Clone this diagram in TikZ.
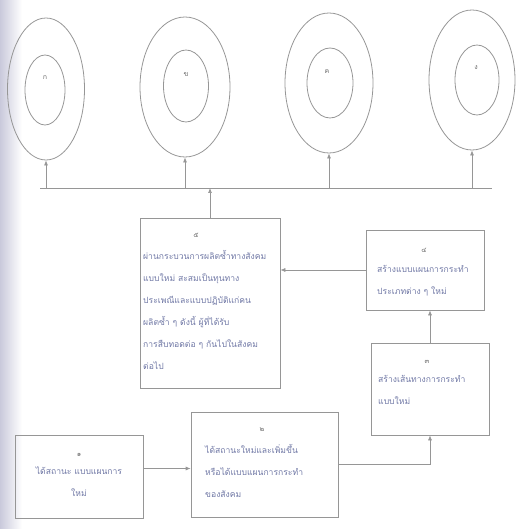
\documentclass[tikz,border=0pt]{standalone}
\usepackage{fontspec}
\newfontfamily\thaifont[Script=Thai]{Loma}
\usetikzlibrary{shapes.geometric,arrows.meta,positioning}
\definecolor{inkblue}{RGB}{112,120,165}
\definecolor{inkgray}{RGB}{110,110,110}
\definecolor{linegray}{RGB}{150,150,150}

\begin{document}
\begin{tikzpicture}[x=1pt,y=-1pt,
  ring_node/.style={ellipse,draw=linegray,line width=0.8pt,inner sep=0pt},
  box_node/.style={rectangle,draw=linegray,line width=0.7pt,inner sep=0pt},
  num_node/.style={font=\thaifont\fontsize{7}{7}\selectfont,text=inkgray,inner sep=0pt},
  txt_node/.style={font=\thaifont\fontsize{8.6}{22}\selectfont,text=inkblue,inner sep=0pt},
  arr/.style={draw=linegray,line width=0.7pt,-{Latex[length=5pt,width=4pt]}}]

    \useasboundingbox (0,0) rectangle (530,529);
    \shade[left color=blue!20!gray!35, right color=white] (0,0) rectangle (22,529);

    \node[ring_node, minimum width=77, minimum height=142] (e1) at (46, 89) {};
    \node[ring_node, minimum width=40, minimum height=70] (c1) at (45, 90) {};
    \node[num_node] (l1) at (45, 78) {ก};
    \node[ring_node, minimum width=90, minimum height=140] (e2) at (185, 87) {};
    \node[ring_node, minimum width=45, minimum height=72] (c2) at (186, 86) {};
    \node[num_node] (l2) at (186, 75) {ข};
    \node[ring_node, minimum width=88, minimum height=140] (e3) at (329, 83) {};
    \node[ring_node, minimum width=46, minimum height=70] (c3) at (330, 83) {};
    \node[num_node] (l3) at (327, 72) {ค};
    \node[ring_node, minimum width=86, minimum height=140] (e4) at (472, 80) {};
    \node[ring_node, minimum width=44, minimum height=70] (c4) at (477, 80) {};
    \node[num_node] (l4) at (476, 68) {ง};

    \coordinate (bus_l) at (40, 188);
    \coordinate (bus_r) at (492, 188);

    \node[box_node, minimum width=128, minimum height=83] (b1) at (79, 476.5) {};
    \node[num_node] (n1) at (79, 455) {๑};
    \node[txt_node, align=center, anchor=north] (t1) at (79, 467) {ได้สถานะ แบบแผนการ\\ใหม่};

    \node[box_node, minimum width=147, minimum height=105] (b2) at (264.5, 464.5) {};
    \node[num_node] (n2) at (262, 430) {๒};
    \node[txt_node, align=left, anchor=north west] (t2) at (205, 444) {ได้สถานะใหม่และเพิ่มขึ้น\\หรือได้แบบแผนการกระทำ\\ของสังคม};

    \node[box_node, minimum width=118, minimum height=92] (b3) at (430, 389) {};
    \node[num_node] (n3) at (427, 362) {๓};
    \node[txt_node, align=left, anchor=north west] (t3) at (378, 375) {สร้างเส้นทางการกระทำ\\แบบใหม่};

    \node[box_node, minimum width=118, minimum height=80] (b4) at (425, 270) {};
    \node[num_node] (n4) at (424, 250) {๔};
    \node[txt_node, align=left, anchor=north west] (t4) at (377, 265) {สร้างแบบแผนการกระทำ\\ประเภทต่าง ๆ ใหม่};

    \node[box_node, minimum width=140, minimum height=170] (b5) at (210, 303) {};
    \node[num_node] (n5) at (196, 235) {๕};
    \node[txt_node, align=left, anchor=north west] (t5) at (143, 250) {ผ่านกระบวนการผลิตซ้ำทางสังคม\\แบบใหม่ สะสมเป็นทุนทาง\\ประเพณีและแบบปฏิบัติแก่คน\\ผลิตซ้ำ ๆ ดังนี้ ผู้ที่ได้รับ\\การสืบทอดต่อ ๆ กันไปในสังคม\\ต่อไป};

    \draw[linegray, line width=0.7pt] (bus_l) -- (bus_r);
    \draw[arr] (e1.south |- bus_l) -- (e1.south);
    \draw[arr] (e2.south |- bus_l) -- (e2.south);
    \draw[arr] (e3.south |- bus_l) -- (e3.south);
    \draw[arr] (e4.south |- bus_l) -- (e4.south);
    \draw[arr] (b5.north) -- (b5.north |- bus_l);
    \draw[arr] (b4.west) -- (b5.east |- b4.west);
    \draw[arr] (b3.north) -- (b3.north |- b4.south);
    \draw[arr] ([yshift=8pt]b1.east) -- ([yshift=8pt]b1.east -| b2.west);
    \draw[arr] (b2.east) -- (b2.east -| b3.south) -- (b3.south);
\end{tikzpicture}
\end{document}
